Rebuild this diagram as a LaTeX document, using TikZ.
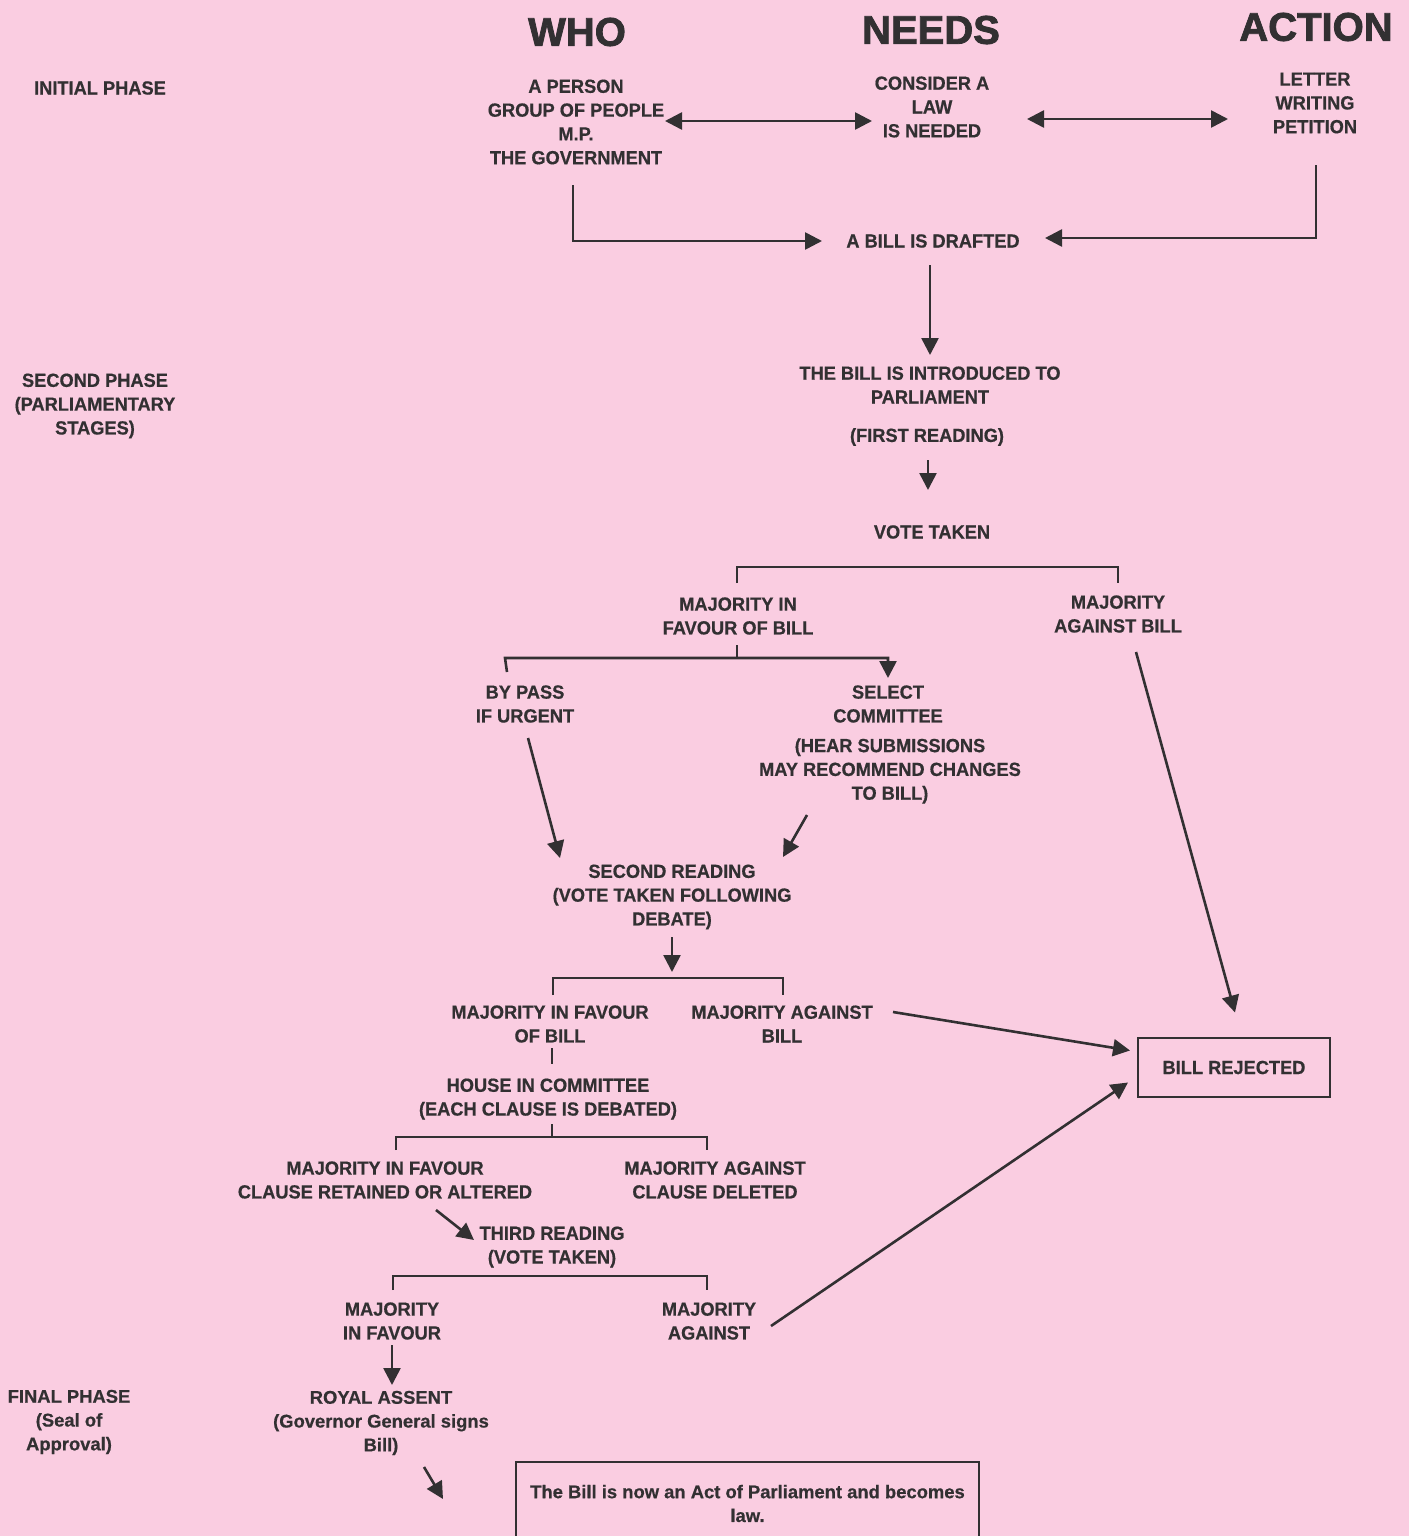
\documentclass[tikz,border=0pt]{standalone}
\usepackage{fontspec}
\setmainfont{Liberation Sans}
\newfontfamily\capsf{Liberation Sans}[FakeStretch=0.96,FakeBold=0.6]
\newfontfamily\widef{Liberation Sans}[FakeBold=0.6]
\newfontfamily\headf{Liberation Sans}[FakeBold=2]
\usetikzlibrary{arrows.meta,calc}
\definecolor{paper}{RGB}{250,205,225}
\definecolor{ink}{RGB}{50,48,50}
\tikzset{
  txt/.style={inner sep=0pt, align=center, text=ink,
    font=\capsf\bfseries\fontsize{9.5}{11.9}\selectfont},
  wtxt/.style={inner sep=0pt, align=center, text=ink,
    font=\widef\bfseries\fontsize{9.2}{11.9}\selectfont},
  hdr/.style={inner sep=0pt, text=ink,
    font=\headf\bfseries\fontsize{20}{24}\selectfont},
  ln/.style={draw=ink, line width=1.3pt},
  arr/.style={ln, -{Triangle[length=8.5pt,width=8.5pt]}},
  dbl/.style={ln, {Triangle[length=8.5pt,width=8.5pt]}-{Triangle[length=8.5pt,width=8.5pt]}},
  rejbox/.style={txt, draw=ink, line width=1pt, minimum width=96pt, minimum height=29.5pt},
  finalbox/.style={wtxt, draw=ink, line width=1pt, minimum width=231.5pt, minimum height=41.5pt},
}
\begin{document}
\begin{tikzpicture}[x=0.5pt,y=-0.5pt]
\useasboundingbox (0,0) rectangle (1409,1536);
\fill[paper] (0,0) rectangle (1409,1536);

% headers and phase labels
\node[hdr] (hwho) at (577,32) {WHO};
\node[hdr] (hneeds) at (931,30) {NEEDS};
\node[hdr] (haction) at (1316,27) {ACTION};
\node[txt] (pinit) at (100,88) {INITIAL PHASE};
\node[txt] (psecond) at (95,406) {SECOND PHASE\\(PARLIAMENTARY\\STAGES)};
\node[wtxt] (pfinal) at (69,1422) {FINAL PHASE\\(Seal of\\Approval)};

% nodes
\node[txt] (who) at (576,122) {A PERSON\\GROUP OF PEOPLE\\M.P.\\THE GOVERNMENT};
\node[txt] (needs) at (932,107) {CONSIDER A\\LAW\\IS NEEDED};
\node[txt] (action) at (1315,103) {LETTER\\WRITING\\PETITION};
\node[txt] (drafted) at (933,241) {A BILL IS DRAFTED};
\node[txt] (intro) at (930,385) {THE BILL IS INTRODUCED TO\\PARLIAMENT};
\node[txt] (firstr) at (927,437) {(FIRST READING)};
\node[txt] (vote) at (932,532) {VOTE TAKEN};
\node[txt] (favour1) at (738,616) {MAJORITY IN\\FAVOUR OF BILL};
\node[txt] (against1) at (1118,614) {MAJORITY\\AGAINST BILL};
\node[txt] (bypass) at (525,704) {BY PASS\\IF URGENT};
\node[txt] (select) at (888,704) {SELECT\\COMMITTEE};
\node[txt] (hear) at (890,771) {(HEAR SUBMISSIONS\\MAY RECOMMEND CHANGES\\TO BILL)};
\node[txt] (second) at (672,897) {SECOND READING\\(VOTE TAKEN FOLLOWING\\DEBATE)};
\node[txt] (favour2) at (550,1024) {MAJORITY IN FAVOUR\\OF BILL};
\node[txt] (against2) at (782,1024) {MAJORITY AGAINST\\BILL};
\node[rejbox] (rejected) at (1234,1067.5) {BILL REJECTED};
\node[txt] (house) at (548,1099) {HOUSE IN COMMITTEE\\(EACH CLAUSE IS DEBATED)};
\node[txt] (favour3) at (385,1180) {MAJORITY IN FAVOUR\\CLAUSE RETAINED OR ALTERED};
\node[txt] (against3) at (715,1180) {MAJORITY AGAINST\\CLAUSE DELETED};
\node[txt] (third) at (552,1247) {THIRD READING\\(VOTE TAKEN)};
\node[txt] (favour4) at (392,1321) {MAJORITY\\IN FAVOUR};
\node[txt] (against4) at (709,1321) {MAJORITY\\AGAINST};
\node[wtxt] (royal) at (381,1423) {ROYAL ASSENT\\(Governor General signs\\Bill)};
\node[finalbox] (final) at (747.5,1503.5) {The Bill is now an Act of Parliament and becomes\\law.};

% connectors
\draw[dbl] ($(who)+(89,-1)$) -- ($(needs)+(-60,14)$);
\draw[dbl] ($(needs)+(95,12)$) -- ($(action)+(-87,16)$);
\draw[arr] ($(who)+(-3,63)$) |- ($(drafted)+(-111,0)$);
\draw[arr] ($(action)+(1,62)$) |- ($(drafted)+(112,-3)$);
\draw[arr] ($(drafted)+(-3,24)$) -- ($(intro)+(0,-30)$);
\draw[arr] ($(firstr)+(1,23)$) -- ($(vote)+(-4,-42)$);
% vote bracket
\draw[ln] ($(favour1)+(-1,-33)$) -- ($(favour1)+(-1,-49)$) -- ($(against1)+(0,-47)$) -- ($(against1)+(0,-31)$);
% favour -> bypass / select
\draw[ln] ($(favour1)+(-1,29)$) -- ($(favour1)+(-1,42)$);
\draw[arr] ($(bypass)+(-18,-32)$) -- ($(bypass)+(-20,-46)$) -| ($(select)+(0,-26)$);
\draw[arr] ($(bypass)+(3,34)$) -- ($(second)+(-112,-39)$);
\draw[arr] ($(hear)+(-83,44)$) -- ($(second)+(111,-40)$);
\draw[arr] ($(against1)+(18,38)$) -- ($(rejected)+(1,-55)$);
% second reading
\draw[arr] ($(second)+(0,40)$) -- ($(second)+(0,75)$);
\draw[ln] ($(favour2)+(3,-29)$) -- ($(favour2)+(3,-46)$) -- ($(against2)+(1,-46)$) -- ($(against2)+(1,-29)$);
\draw[arr] ($(against2)+(111,-12)$) -- ($(rejected)+(-104,-17)$);
\draw[ln] ($(favour2)+(2,24)$) -- ($(house)+(4,-35)$);
% house in committee
\draw[ln] ($(house)+(4,25)$) -- ($(house)+(4,38)$);
\draw[ln] ($(favour3)+(11,-30)$) -- ($(favour3)+(11,-43)$) -- ($(against3)+(-8,-43)$) -- ($(against3)+(-8,-30)$);
\draw[arr] ($(favour3)+(51,30)$) -- ($(third)+(-78,-7)$);
% third reading
\draw[ln] ($(favour4)+(1,-31)$) -- ($(favour4)+(1,-45)$) -- ($(against4)+(-2,-45)$) -- ($(against4)+(-2,-31)$);
\draw[arr] ($(against4)+(62,5)$) -- ($(rejected)+(-106,15)$);
\draw[arr] ($(favour4)+(0,24)$) -- ($(royal)+(11,-38)$);
\draw[arr] ($(royal)+(43,44)$) -- ($(final)+(-304.5,-4.5)$);
\end{tikzpicture}
\end{document}
